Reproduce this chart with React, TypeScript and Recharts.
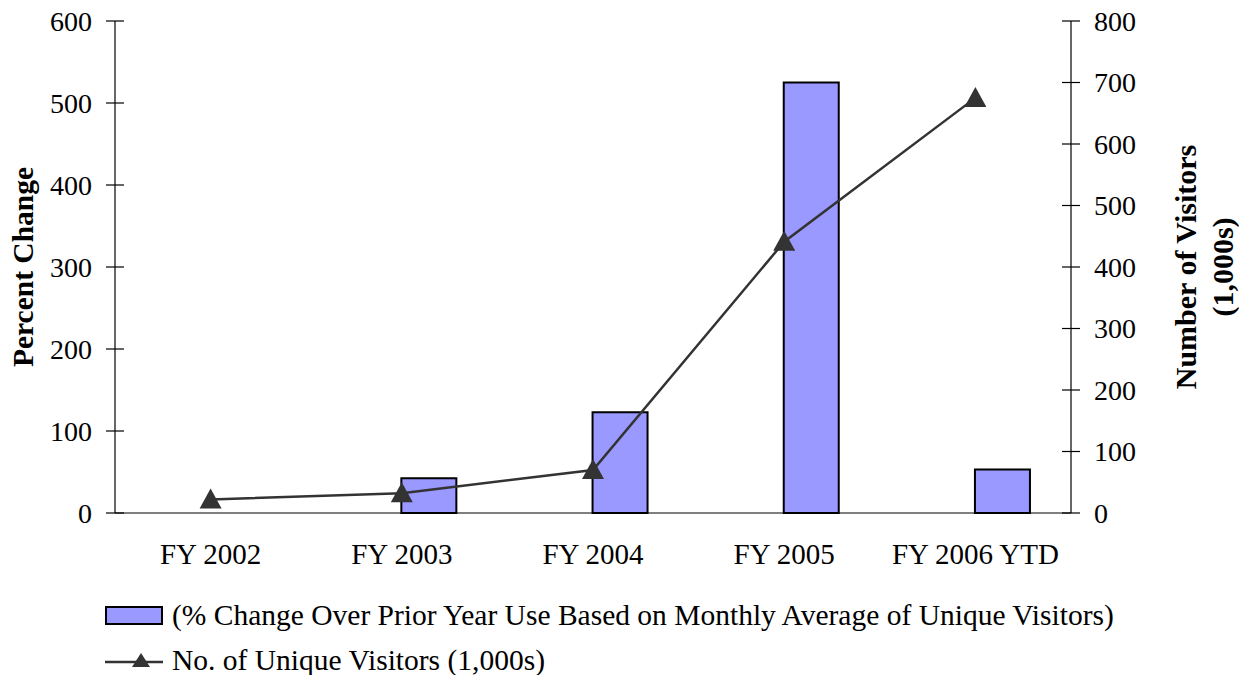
import React from "react";
import { ComposedChart, Bar, Line, XAxis, YAxis, Legend, Label } from "recharts";

const years = ["FY 2002", "FY 2003", "FY 2004", "FY 2005", "FY 2006 YTD"];
const pctChange = [null, 42.5, 123, 525, 53];
const visitors = [22, 32, 70, 441, 675];
const pctTicks = [0, 100, 200, 300, 400, 500, 600];
const visitorTicks = [0, 100, 200, 300, 400, 500, 600, 700, 800];
const edgeTicks = [0, 1, 2, 3, 4, 5];

const barName = "(% Change Over Prior Year Use Based on Monthly Average of Unique Visitors)";
const lineName = "No. of Unique Visitors (1,000s)";

const data = years.map((y, i) => ({
  year: y,
  spacer: null,
  pct: pctChange[i],
  visitors: visitors[i],
}));

const FONT = "'Liberation Serif', 'Times New Roman', serif";
const BAR_FILL = "#9999ff";
const LINE_COLOR = "#333333";
const TICK_SIZE = 9;
const TICK_GAP = 14;

function LeftTick(props: any) {
  const { x, y, payload } = props;
  const ax = x + TICK_SIZE + TICK_GAP;
  return (
    <g>
      <line x1={ax - TICK_SIZE} x2={ax + TICK_SIZE} y1={y} y2={y} stroke="#000" strokeWidth={1.2} />
      <text x={x} y={y} textAnchor="end" dominantBaseline="central" fontSize={28} fontFamily={FONT} fill="#000">
        {payload.value}
      </text>
    </g>
  );
}

function RightTick(props: any) {
  const { x, y, payload } = props;
  const ax = x - TICK_SIZE - TICK_GAP;
  return (
    <g>
      <line x1={ax - TICK_SIZE} x2={ax + TICK_SIZE} y1={y} y2={y} stroke="#000" strokeWidth={1.2} />
      <text x={x} y={y} textAnchor="start" dominantBaseline="central" fontSize={28} fontFamily={FONT} fill="#000">
        {payload.value}
      </text>
    </g>
  );
}

function EdgeTick(props: any) {
  const { x, y } = props;
  return <line x1={x} x2={x} y1={y - 9} y2={y + 9} stroke="#000" strokeWidth={1.2} />;
}

function Triangle(props: any) {
  const { cx, cy } = props;
  if (cx == null || cy == null) return null;
  return <path d={`M${cx},${cy - 11} L${cx + 11},${cy + 9} L${cx - 11},${cy + 9} Z`} fill={LINE_COLOR} />;
}

function LeftTitle(props: any) {
  const { viewBox } = props;
  const cx = viewBox.x + 15;
  const cy = viewBox.y + viewBox.height / 2;
  return (
    <text x={cx} y={cy} transform={`rotate(-90 ${cx} ${cy})`} textAnchor="middle" dominantBaseline="central"
      fontSize={29.5} fontWeight="bold" fontFamily={FONT} fill="#000">
      Percent Change
    </text>
  );
}

function RightTitle(props: any) {
  const { viewBox } = props;
  const cy = viewBox.y + viewBox.height / 2;
  const x1 = viewBox.x + 114;
  const x2 = viewBox.x + 151;
  return (
    <g fontSize={30} fontWeight="bold" fontFamily={FONT} fill="#000">
      <text x={x1} y={cy} transform={`rotate(-90 ${x1} ${cy})`} textAnchor="middle" dominantBaseline="central">
        Number of Visitors
      </text>
      <text x={x2} y={cy} transform={`rotate(-90 ${x2} ${cy})`} textAnchor="middle" dominantBaseline="central">
        (1,000s)
      </text>
    </g>
  );
}

function renderLegend() {
  return (
    <div style={{ fontFamily: FONT, fontSize: 29.5, color: "#000", lineHeight: "45px", whiteSpace: "nowrap" }}>
      <div style={{ display: "flex", alignItems: "center" }}>
        <svg width={60} height={22} style={{ marginRight: 7 }}>
          <rect x={1} y={2} width={56} height={17} fill={BAR_FILL} stroke="#000" strokeWidth={2} />
        </svg>
        <span>{barName}</span>
      </div>
      <div style={{ display: "flex", alignItems: "center" }}>
        <svg width={60} height={22} style={{ marginRight: 7 }}>
          <line x1={0} x2={58} y1={12} y2={12} stroke={LINE_COLOR} strokeWidth={2.5} />
          <path d="M36,3 L45,17 L27,17 Z" fill={LINE_COLOR} />
        </svg>
        <span>{lineName}</span>
      </div>
    </div>
  );
}

export default function App() {
  return (
    <div style={{ position: "absolute", left: 8, top: 8 }}>
      <ComposedChart
        width={1231}
        height={667}
        data={data}
        margin={{ top: 13, right: 0, bottom: 102, left: 0 }}
        barGap={0}
        barCategoryGap="21%"
      >
        <XAxis
          dataKey="year"
          xAxisId="cat"
          axisLine={{ stroke: "#000", strokeWidth: 1.2 }}
          tickLine={false}
          tickSize={0}
          tickMargin={30}
          height={60}
          tick={{ fontSize: 29, fontFamily: FONT, fill: "#000" }}
        />
        <XAxis
          xAxisId="edges"
          type="number"
          domain={[0, 5]}
          ticks={edgeTicks}
          axisLine={false}
          tickLine={false}
          tick={<EdgeTick />}
          height={0}
        />
        <YAxis
          yAxisId="left"
          domain={[0, 600]}
          ticks={pctTicks}
          width={107}
          axisLine={{ stroke: "#000", strokeWidth: 1.2 }}
          tickLine={false}
          tickSize={TICK_SIZE}
          tickMargin={TICK_GAP}
          tick={<LeftTick />}
          interval={0}
        >
          <Label content={<LeftTitle />} />
        </YAxis>
        <YAxis
          yAxisId="right"
          orientation="right"
          domain={[0, 800]}
          ticks={visitorTicks}
          width={168}
          axisLine={{ stroke: "#000", strokeWidth: 1.2 }}
          tickLine={false}
          tickSize={TICK_SIZE}
          tickMargin={TICK_GAP}
          tick={<RightTick />}
          interval={0}
        >
          <Label content={<RightTitle />} />
        </YAxis>
        <Legend
          layout="vertical"
          align="center"
          verticalAlign="middle"
          content={renderLegend}
          wrapperStyle={{ left: 97, top: 585, width: 1120 }}
        />
        <Bar dataKey="spacer" xAxisId="cat" yAxisId="left" fill="none" isAnimationActive={false} legendType="none" />
        <Bar
          dataKey="pct"
          name={barName}
          xAxisId="cat"
          yAxisId="left"
          fill={BAR_FILL}
          stroke="#000"
          strokeWidth={2}
          isAnimationActive={false}
        />
        <Line
          dataKey="visitors"
          name={lineName}
          xAxisId="cat"
          yAxisId="right"
          stroke={LINE_COLOR}
          strokeWidth={2.5}
          dot={<Triangle />}
          activeDot={false}
          type="linear"
          isAnimationActive={false}
        />
      </ComposedChart>
    </div>
  );
}
